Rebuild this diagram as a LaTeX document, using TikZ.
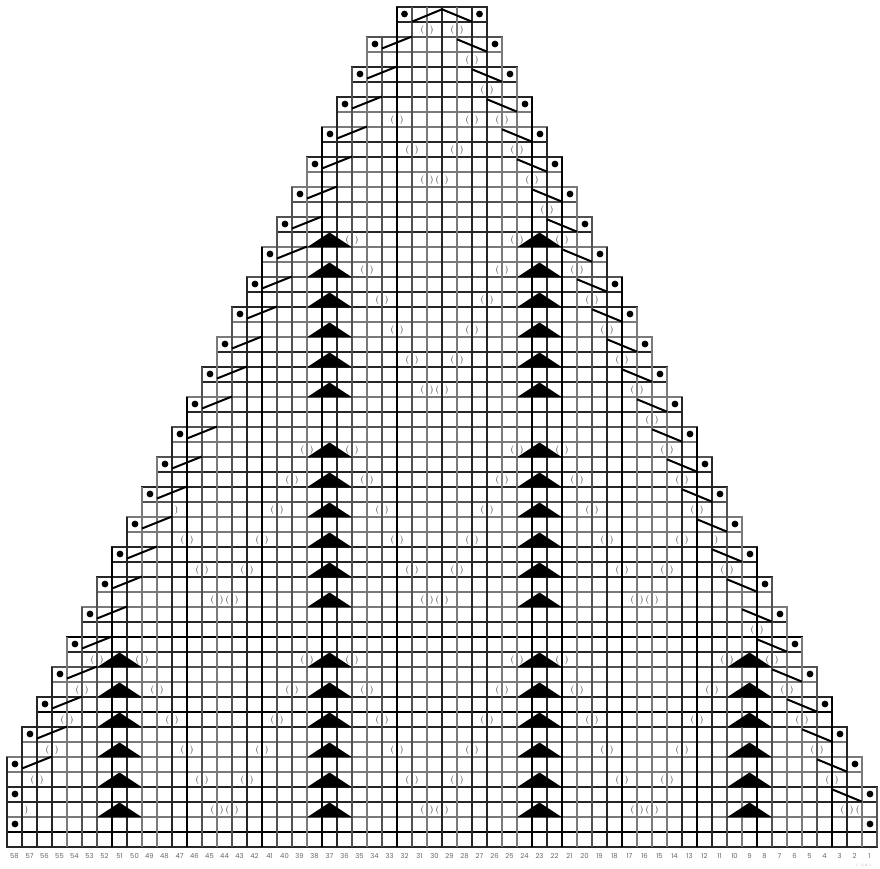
\documentclass[tikz,border=0pt]{standalone}
\usepackage{fontspec}
\newfontfamily\numfont{Poppins}
\tikzset{
  g1/.style={draw=black,line width=1.2},
  g2/.style={draw=black!85,line width=1.1},
  g3/.style={draw=black!68,line width=1.1},
  g4/.style={draw=black!52,line width=1.15},
  slant/.style={draw=black,line width=2},
  dotmark/.style={fill=black},
  tri/.style={fill=black},
  par/.style={inner sep=0pt,text=black!85,font=\fontsize{9}{9}\selectfont},
  num/.style={inner sep=0pt,text=black!60,font=\numfont\fontsize{6.8}{7}\selectfont},
}
\newcommand{\Lft}[1]{ifthenelse(#1<2,26,max(25-floor(#1/2),0))}
\newcommand{\Rgt}[1]{ifthenelse(#1<2,32,min(32+floor(#1/2),58))}
\begin{document}
\begin{tikzpicture}[x=1pt,y=-1pt]
\useasboundingbox (0,0) rectangle (880,869);
% horizontal grid lines
\foreach \r/\v in {0/2,1/2,2/3,3/4,4/2,5/2,6/2,7/4,8/4,9/2,10/2,11/4,12/4,13/3,14/3,15/2,16/4,17/4,18/3,19/2,20/2,21/4,22/4,23/2,24/2,25/2,26/4,27/2,28/3,29/4,30/3,31/2,32/2,33/3,34/4,35/4,36/2,37/2,38/2,39/4,40/4,41/2,42/1,43/2,44/3,45/4,46/2,47/1,48/2,49/4,50/4,51/4,52/2,53/2,54/4,55/1,56/2}{
  \pgfmathtruncatemacro{\La}{\Lft{\r}}
  \pgfmathtruncatemacro{\Ra}{\Rgt{\r}}
  \draw[g\v] (7+15*\La-0.6,7+15*\r) -- (7+15*\Ra+0.6,7+15*\r);
}
% vertical grid lines
\foreach \b/\v in {0/2,1/2,2/2,3/2,4/4,5/3,6/3,7/1,8/2,9/4,10/4,11/2,12/1,13/3,14/4,15/3,16/2,17/1,18/3,19/3,20/4,21/1,22/2,23/3,24/4,25/3,26/1,27/3,28/4,29/2,30/4,31/2,32/2,33/4,34/4,35/1,36/2,37/1,38/4,39/3,40/2,41/1,42/4,43/4,44/4,45/2,46/1,47/2,48/3,49/4,50/1,51/3,52/4,53/4,54/3,55/1,56/2,57/4,58/3}{
  \pgfmathtruncatemacro{\T}{\b<25 ? 2*(25-\b) : (\b==25 ? 2 : (\b<33 ? 0 : 2*(\b-32)))}
  \draw[g\v] (7+15*\b,7+15*\T) -- (7+15*\b,847);
}
% parenthesis marks, centred on grid lines
\foreach \r/\lst in {1/{28,30},3/{31},5/{32},7/{26,31,33},9/{27,30,34},11/{28,29,35},13/{36},15/{23,34,37},17/{24,33,38},19/{25,32,39},21/{26,31,40},23/{27,30,41},25/{28,29,42},27/{43},29/{20,23,34,37,44},31/{19,24,33,38,45},33/{18,25,32,39,46},35/{12,17,26,31,40,45},37/{13,16,27,30,41,44,48},39/{14,15,28,29,42,43},41/{50},43/{6,9,20,23,34,37,48,51},45/{5,10,19,24,33,38,47,52},47/{4,11,18,25,32,39,46,53},49/{3,12,17,26,31,40,45,54},51/{2,13,16,27,30,41,44,55},53/{14,15,28,29,42,43,56}}{
  \foreach \b in \lst {
    \node[par] (p-\r-\b) at (7+15*\b,7+15*\r+8) {(\hspace{5.8pt})};
  }
}
\node[par] (h1) at (7+15*11+4.3,7+15*33+8) {)};
\node[par] (h2) at (7+15*47+4.3,7+15*35+8) {)};
\node[par] (h3) at (7+15*1+4.3,7+15*53+8) {)};
\node[par] (h4) at (7+15*57-4.3,7+15*53+8) {(};
% slanted strokes
\draw[slant] (7+15*27,21.7) -- (7+15*29,9.3) -- (7+15*31,21.7);
\foreach \r in {2,4,...,50}{
  \pgfmathtruncatemacro{\Lc}{25-\r/2}
  \draw[slant] (7+15*\Lc+15,7+15*\r+11.5) -- (7+15*\Lc+45,7+15*\r-0.5);
}
\foreach \r in {2,4,...,52}{
  \pgfmathtruncatemacro{\Rc}{31+\r/2}
  \draw[slant] (7+15*\Rc-30,7+15*\r+2.3) -- (7+15*\Rc,7+15*\r+14.7);
}
% dots
\fill[dotmark] (7+15*26+7.5,14) circle (3.4);
\fill[dotmark] (7+15*31+7.5,14) circle (3.4);
\foreach \r in {2,4,...,50}{
  \pgfmathtruncatemacro{\Lc}{25-\r/2}
  \fill[dotmark] (7+15*\Lc+8,7+15*\r+7) circle (3.4);
}
\foreach \r in {2,4,...,52}{
  \pgfmathtruncatemacro{\Rc}{31+\r/2}
  \fill[dotmark] (7+15*\Rc+8,7+15*\r+7) circle (3.4);
}
\fill[dotmark] (7+8,7+15*52+7) circle (3.4);
\fill[dotmark] (7+8,7+15*54+7) circle (3.4);
\fill[dotmark] (7+15*57+8,7+15*54+7) circle (3.4);
% triangles
\foreach \b/\rows in {20/{15,17,19,21,23,25,29,31,33,35,37,39,43,45,47,49,51,53},34/{15,17,19,21,23,25,29,31,33,35,37,39,43,45,47,49,51,53},6/{43,45,47,49,51,53},48/{43,45,47,49,51,53}}{
  \foreach \r in \rows {
    \fill[tri] (7+15*\b,7+15*\r+15.3) -- (7+15*\b+22.5,7+15*\r+0.5) -- (7+15*\b+45,7+15*\r+15.3) -- cycle;
  }
}
% column numbers
\foreach \c in {1,...,58}{
  \node[num] (n\c) at (7+15*58-15*\c+7.5,856) {\c};
}
\node[inner sep=0pt,text=black!35,font=\fontsize{3.5}{4}\selectfont] (mark) at (864,866) {l 'c|A r};
\end{tikzpicture}
\end{document}
